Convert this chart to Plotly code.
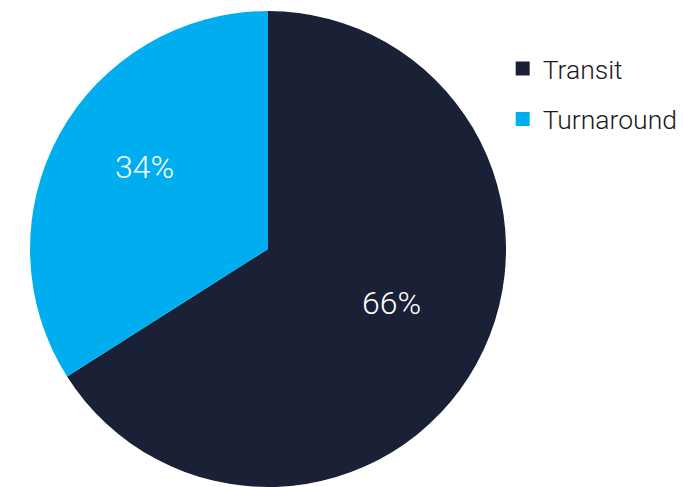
import math
import plotly.graph_objects as go

labels = ["Transit", "Turnaround"]
values = [66, 34]
colors = ["#1a2035", "#00aeef"]

W, H = 683, 487
M_TOP = 11
DOM_X = [0.0439, 0.7409]

fig = go.Figure()

fig.add_trace(
    go.Pie(
        labels=labels,
        values=values,
        marker=dict(colors=colors, line=dict(width=0)),
        sort=False,
        direction="clockwise",
        rotation=0,
        textinfo="none",
        domain=dict(x=DOM_X, y=[0, 1]),
        hoverinfo="label+percent",
        showlegend=False,
    )
)

# legend entries as square markers
for lab, col in zip(labels, colors):
    fig.add_trace(
        go.Scatter(
            x=[None], y=[None], mode="markers", name=lab,
            marker=dict(symbol="square", size=14, color=col),
            legendgroup=lab, showlegend=True, hoverinfo="skip",
        )
    )

# percentage labels placed along each slice's mid-angle
plot_h = H - M_TOP
radius_px = plot_h / 2
cx = (DOM_X[0] + DOM_X[1]) / 2
cy = 0.5
total = sum(values)
cum = 0.0
for v in values:
    mid = (cum + v / 2) / total * 2 * math.pi
    cum += v
    r = 0.59 * radius_px
    ax = cx + r * math.sin(mid) / W
    ay = cy + r * math.cos(mid) / plot_h
    fig.add_annotation(
        x=ax, y=ay, xref="paper", yref="paper",
        text=f"{round(v / total * 100)}%",
        showarrow=False, xanchor="center", yanchor="bottom", yshift=-7,
        font=dict(family="Roboto", size=32, color="white", weight=300),
    )

fig.update_layout(
    width=W,
    height=H,
    margin=dict(l=0, r=0, t=M_TOP, b=0, autoexpand=False),
    paper_bgcolor="white",
    plot_bgcolor="white",
    font=dict(family="Roboto", color="#1a1a1a"),
    xaxis=dict(visible=False),
    yaxis=dict(visible=False),
    legend=dict(
        x=0.736,
        y=0.929,
        xanchor="left",
        yanchor="top",
        font=dict(family="Roboto", size=26.5, color="#1a1a1a", weight=300),
        tracegroupgap=13,
        itemsizing="trace",
    ),
    showlegend=True,
)

fig.write_html("out.html")
